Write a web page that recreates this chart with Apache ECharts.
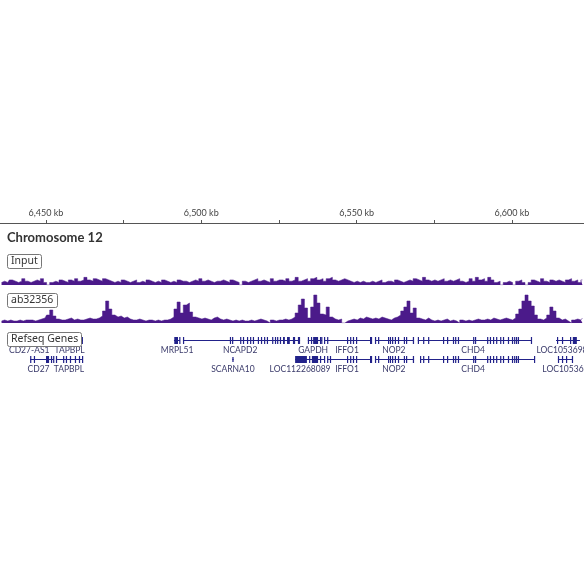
<!DOCTYPE html>
<html><head><meta charset="utf-8">
<script src="https://cdn.jsdelivr.net/npm/echarts@6/dist/echarts.min.js"></script>
<style>html,body{margin:0;padding:0;background:#fff}#c{width:584px;height:584px}</style>
</head><body><div id="c"></div>
<script>
// View window (kb) and coverage bins
const viewStartKb = 6435.2, viewEndKb = 6623.2;
const binStartKb = 6435.2, binKb = 1;
const tickValues = [6450, 6475, 6500, 6525, 6550, 6575, 6600];
const tickLabelValues = [6450, 6500, 6550, 6600];
const tickLabels = ['6,450 kb', '6,500 kb', '6,550 kb', '6,600 kb'];
const chromosomeTitle = 'Chromosome 12';
const trackNames = ['Input', 'ab32356', 'Refseq Genes'];

// Coverage per 1 kb bin
const inputSignal = [
  2,3,2,4,3,2,3,5,3,2, 3,4,3,5,2,0,2,3,2,4, 3,2,4,3,5,3,4,6,4,3, 5,4,3,5,4,3,2,3,2,4,
  3,2,3,4,2,3,2,4,3,2, 3,2,4,3,2,3,2,4,3,3, 2,3,4,3,5,3,4,3,2,3, 3,4,3,2,4,3,2,0,3,2,
  3,4,5,3,4,3,2,5,3,4, 4,3,5,3,4,6,3,4,5,3, 5,6,4,5,3,5,6,4,3,4, 5,4,3,2,3,2,3,2,2,3,
  2,3,4,2,3,3,2,4,3,2, 3,4,3,5,4,3,6,4,3,4, 3,4,5,3,4,3,4,5,3,2, 3,5,3,6,4,5,3,6,4,2,
  3,0,2,3,2,0,3,4,2,0, 2,4,3,2,5,3,2,4,3,4, 3,2,4,5,3,4,2,4
];
const chipSignal = [
  2,3,2,3,2,2,3,2,3,3, 3,2,3,4,5,8,13,7,4,3, 3,4,5,3,4,3,3,4,5,4, 4,5,7,12,22,14,8,6,7,5,
  6,4,3,3,4,3,2,3,3,2, 3,2,3,3,4,6,14,21,10,18, 20,11,6,5,4,5,4,3,5,6, 4,3,4,3,2,3,2,3,2,2,
  3,2,3,4,3,2,0,3,2,3, 3,4,3,4,6,10,18,24,15,5, 16,28,20,9,8,16,6,4,3,4, 0,2,3,4,3,5,4,6,5,4,
  5,4,6,5,4,3,5,6,8,12, 16,22,10,15,5,4,3,5,3,2, 3,2,3,4,2,3,2,0,3,2, 3,2,3,4,3,3,4,3,5,4,
  3,4,5,4,3,5,9,14,22,28, 22,17,8,4,3,5,8,16,12,5, 3,4,2,0,3,4,3,5
];

// RefSeq genes (kb)
const geneNames  = ['CD27-AS1','TAPBPL','MRPL51','NCAPD2','GAPDH','IFFO1','NOP2','CHD4','LOC105369834',
                    'CD27','TAPBPL','SCARNA10','LOC112268089','IFFO1','NOP2','CHD4','LOC105369835'];
const geneRows   = [0,0,0,0,0,0,0,0,0, 1,1,1,1,1,1,1,1];
const geneStarts = [6444.2,6452.3,6491.2,6494.1,6534.3,6539.5,6555.9,6569.7,6614.2,
                    6444.9,6453.2,6510.0,6530.2,6540.5,6555.9,6570.4,6614.8];
const geneEnds   = [6450.0,6461.9,6493.1,6531.8,6538.9,6554.9,6568.5,6606.4,6621.9,
                    6452.6,6461.9,6510.4,6539.8,6554.9,6568.5,6607.4,6619.6];
const geneLabelKb= [6444.6,6457.6,6492.2,6512.5,6536.0,6546.9,6562.0,6587.5,6617.7,
                    6447.6,6457.4,6510.2,6531.8,6546.9,6562.0,6587.5,6619.6];
const geneExons = [
  [[6444.2,6444.5],[6448.1,6448.4],[6449.7,6450.0]],
  [[6452.3,6452.6],[6454.5,6454.8],[6456.1,6456.4],[6460.0,6460.3],[6461.3,6461.9]],
  [[6491.3,6492.5],[6492.9,6493.1]],
  [[6494.1,6494.4],[6509.2,6509.5],[6509.9,6510.2],[6512.5,6512.8],[6513.4,6513.7],[6514.7,6515.0],[6515.7,6516.0],
   [6516.6,6516.9],[6518.2,6518.5],[6519.2,6519.5],[6520.2,6520.5],[6521.1,6521.4],[6522.8,6523.1],[6523.7,6524.0],
   [6524.4,6524.7],[6525.3,6525.6],[6526.3,6526.9],[6527.6,6528.5],[6529.5,6530.2],[6531.1,6531.8]],
  [[6534.3,6534.6],[6535.3,6535.6],[6536.0,6537.6],[6538.2,6538.5],[6538.6,6538.9]],
  [[6539.5,6539.8],[6540.5,6540.8],[6546.9,6547.2],[6547.9,6548.2],[6548.8,6549.1],[6549.8,6550.1],[6554.3,6554.6],[6554.6,6554.9]],
  [[6555.9,6556.2],[6556.9,6557.2],[6560.1,6560.4],[6560.7,6561.0],[6561.4,6561.7],[6562.3,6562.6],[6563.3,6563.6],
   [6565.2,6565.5],[6565.9,6566.2],[6568.1,6568.5]],
  [[6569.7,6570.0],[6571.4,6571.7],[6573.0,6573.3],[6577.8,6578.1],[6579.1,6579.4],[6581.0,6581.3],[6581.7,6582.0],
   [6582.6,6582.9],[6587.5,6587.8],[6588.1,6588.4],[6592.0,6592.3],[6592.9,6593.2],[6593.9,6594.2],[6594.9,6595.2],
   [6596.2,6596.5],[6597.1,6597.4],[6598.7,6599.0],[6600.0,6600.3],[6600.7,6601.0],[6601.3,6601.6],[6601.9,6602.2],[6606.1,6606.4]],
  [[6614.5,6614.8],[6616.1,6616.4],[6618.7,6619.0],[6619.6,6620.9]],
  [[6444.9,6445.2],[6446.1,6446.4],[6450.0,6451.0],[6451.6,6451.9],[6452.3,6452.6]],
  [[6453.2,6453.5],[6455.5,6455.8],[6456.4,6456.7],[6457.7,6458.0],[6459.3,6459.6],[6460.6,6460.9],[6461.6,6461.9]],
  [[6510.0,6510.4]],
  [[6530.2,6534.0],[6534.7,6535.0],[6535.6,6537.6],[6538.2,6538.5],[6539.5,6539.8]],
  [[6540.5,6540.8],[6541.4,6541.7],[6546.9,6547.2],[6547.9,6548.2],[6548.8,6549.1],[6549.8,6550.1],[6554.3,6554.6],[6554.6,6554.9]],
  [[6555.9,6556.2],[6556.9,6557.2],[6560.1,6560.4],[6560.7,6561.0],[6561.4,6561.7],[6562.3,6562.6],[6563.3,6563.6],
   [6565.2,6565.5],[6565.9,6566.2],[6568.1,6568.5]],
  [[6570.4,6570.7],[6571.4,6571.7],[6573.0,6573.3],[6577.8,6578.1],[6579.1,6579.4],[6581.0,6581.3],[6581.7,6582.0],
   [6582.6,6582.9],[6587.5,6587.8],[6588.1,6588.4],[6592.0,6592.3],[6592.9,6593.2],[6593.9,6594.2],[6594.9,6595.2],
   [6596.2,6596.5],[6597.1,6597.4],[6598.7,6599.0],[6600.0,6600.3],[6600.7,6601.0],[6601.3,6601.6],[6601.9,6602.2],[6607.1,6607.4]],
  [[6614.8,6615.1],[6616.1,6616.4],[6617.4,6617.7],[6619.3,6619.6]]
];

const SIGNAL = '#4b1a8a', GENE = '#22228a', GENE_TXT = '#3a3a6a';
const chart = echarts.init(document.getElementById('c'), null, {renderer: 'canvas'});

const hiddenX = (gi) => ({gridIndex: gi, type: 'value', min: viewStartKb, max: viewEndKb, show: false});
const binData = (arr) => arr.map((v, i) => [binStartKb + (i + 0.5) * binKb, v]);

const geneLines = geneNames.map((n, i) => [geneStarts[i], geneEnds[i], geneRows[i] + 0.5]);
const exonItems = [];
geneExons.forEach((list, gi) => list.forEach(e => exonItems.push([e[0], e[1], geneRows[gi] + 0.5, gi])));
const labelItems = geneNames.map((n, i) => [geneLabelKb[i], geneRows[i] + 0.5]);

const labelBox = (text, top) => ({
  text, left: 7, top, padding: [2, 4, 2, 4],
  borderColor: '#777', borderWidth: 1, borderRadius: 2, backgroundColor: '#fff',
  textStyle: {fontSize: 10.5, fontWeight: 'normal', color: '#333', fontFamily: 'Noto Sans', lineHeight: 11}
});

chart.setOption({
  animation: false,
  backgroundColor: '#fff',
  title: [
    {text: chromosomeTitle, left: 7, top: 231, padding: 0,
     textStyle: {fontSize: 13, fontWeight: 'bold', color: '#333', fontFamily: 'Lato'}},
    labelBox(trackNames[0], 254),
    labelBox(trackNames[1], 293),
    labelBox(trackNames[2], 332)
  ],
  grid: [
    {left: 0, right: 0, top: 222, height: 1},
    {left: 0, right: 0, top: 271, height: 14},
    {left: 0, right: 0, top: 294, height: 29},
    {left: 0, right: 0, top: 330, height: 38}
  ],
  xAxis: [
    {gridIndex: 0, type: 'value', position: 'top', min: viewStartKb, max: viewEndKb,
     axisLine: {show: true, lineStyle: {color: '#555', width: 1}},
     axisTick: {show: true, length: 3, customValues: tickValues, lineStyle: {color: '#555'}},
     axisLabel: {show: true, margin: 4, customValues: tickLabelValues, fontSize: 9, color: '#444', fontFamily: 'Lato',
       formatter: v => tickLabels[tickLabelValues.indexOf(v)] || ''},
     splitLine: {show: false}},
    hiddenX(1), hiddenX(2), hiddenX(3)
  ],
  yAxis: [
    {gridIndex: 0, type: 'value', show: false},
    {gridIndex: 1, type: 'value', min: 0, max: 11, show: false},
    {gridIndex: 2, type: 'value', min: 0, max: 29, show: false},
    {gridIndex: 3, type: 'value', min: 0, max: 2, inverse: true, show: false}
  ],
  series: [
    {type: 'line', xAxisIndex: 1, yAxisIndex: 1, data: binData(inputSignal), step: 'middle',
     showSymbol: false, lineStyle: {color: SIGNAL, width: 0.5}, areaStyle: {color: SIGNAL, opacity: 1}},
    {type: 'line', xAxisIndex: 2, yAxisIndex: 2, data: binData(chipSignal), step: 'middle',
     showSymbol: false, lineStyle: {color: SIGNAL, width: 0.5}, areaStyle: {color: SIGNAL, opacity: 1}},
    {type: 'custom', xAxisIndex: 3, yAxisIndex: 3, data: geneLines, clip: true,
     renderItem: (params, api) => {
       const a = api.coord([api.value(0), api.value(2)]);
       const b = api.coord([api.value(1), api.value(2)]);
       return {type: 'line', shape: {x1: a[0], y1: Math.round(a[1]) + 0.5, x2: b[0], y2: Math.round(a[1]) + 0.5},
               style: {stroke: GENE, lineWidth: 1}};
     }},
    {type: 'custom', xAxisIndex: 3, yAxisIndex: 3, data: exonItems, clip: true,
     renderItem: (params, api) => {
       const a = api.coord([api.value(0), api.value(2)]);
       const b = api.coord([api.value(1), api.value(2)]);
       const small = geneNames[api.value(3)] === 'SCARNA10';
       const h = small ? 5 : 7;
       const w = Math.max(1.2, b[0] - a[0]);
       return {type: 'rect', shape: {x: a[0], y: Math.round(a[1]) + 0.5 - h / 2, width: w, height: h},
               style: {fill: GENE}};
     }},
    {type: 'custom', xAxisIndex: 3, yAxisIndex: 3, data: labelItems, clip: false,
     renderItem: (params, api) => {
       const p = api.coord([api.value(0), api.value(1)]);
       return {type: 'text', x: p[0], y: p[1] + 10.5,
               style: {text: geneNames[params.dataIndex], fill: GENE_TXT, font: '8.5px Lato',
                       align: 'center', verticalAlign: 'middle'}};
     }}
  ]
});
</script></body></html>
